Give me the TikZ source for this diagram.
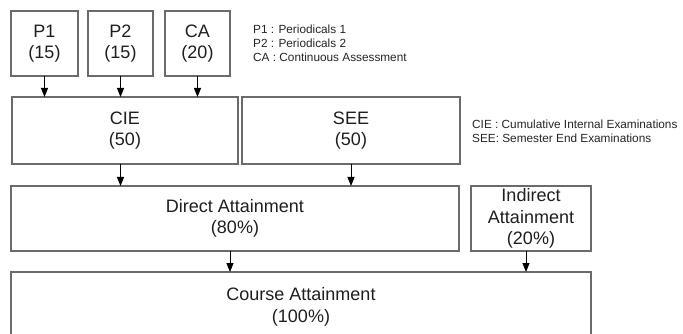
\documentclass[tikz,border=0pt]{standalone}
\usepackage{fontspec}
\setmainfont{Liberation Sans}
\usetikzlibrary{arrows.meta}
\begin{document}
\begin{tikzpicture}[x=1pt,y=-1pt,
  box/.style={draw=black!58, line width=1.4pt, rectangle, inner sep=0pt, outer sep=0pt,
    align=center, text=black!88, font=\fontsize{18}{21.5}\selectfont},
  legend/.style={anchor=west, align=left, inner sep=0pt, text=black!85,
    font=\fontsize{11.8}{14}\selectfont},
  arr/.style={draw=black, line width=0.9pt, -{Triangle[length=9pt,width=7pt]}}]
\useasboundingbox[fill=white] (0,0) rectangle (683,334);
% top row
\node[box, minimum width=67, minimum height=65] (P1) at (44.5,43.5) {P1\\(15)};
\node[box, minimum width=65, minimum height=65] (P2) at (120.5,43.5) {P2\\(15)};
\node[box, minimum width=65, minimum height=65] (CA) at (197.5,43.5) {CA\\(20)};
\node[legend] (leg1) at (253,43) {P1 : Periodicals 1\\P2 : Periodicals 2\\CA : Continuous Assessment};
% second row
\node[box, minimum width=226, minimum height=67] (CIE) at (125,130.5) {CIE\\(50)};
\node[box, minimum width=218, minimum height=67] (SEE) at (351,130.5) {SEE\\(50)};
\node[legend] (leg2) at (472,131) {CIE : Cumulative Internal Examinations\\SEE: Semester End Examinations};
% third row
\node[box, minimum width=448, minimum height=65] (DA) at (235,218.5) {Direct Attainment\\(80\%)};
\node[box, minimum width=120, minimum height=65] (IA) at (531,218.5) {Indirect\\Attainment\\[-0.5pt](20\%)};
% bottom row
\node[box, minimum width=580, minimum height=70] (CO) at (301,307) {Course Attainment\\(100\%)};
% connectors
\draw[arr] (P1.south) -- (P1.south |- CIE.north);
\draw[arr] (P2.south) -- (P2.south |- CIE.north);
\draw[arr] (CA.south) -- (CA.south |- CIE.north);
\draw[arr] (P2.south |- CIE.south) -- (P2.south |- DA.north);
\draw[arr] (SEE.south) -- (SEE.south |- DA.north);
\draw[arr] ([xshift=-5pt]DA.south) -- ([xshift=-5pt]DA.south |- CO.north);
\draw[arr] ([xshift=-5pt]IA.south) -- ([xshift=-5pt]IA.south |- CO.north);
\end{tikzpicture}
\end{document}
